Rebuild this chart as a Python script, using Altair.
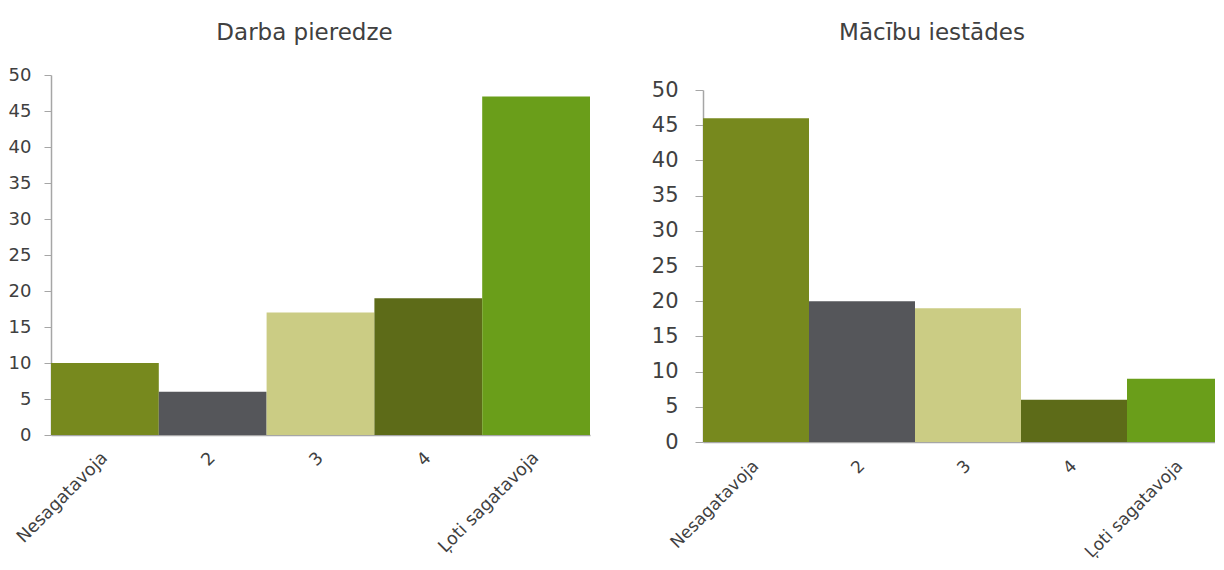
import altair as alt
import pandas as pd

categories = ["Nesagatavoja", "2", "3", "4", "Ļoti sagatavoja"]
darba_values = [10, 6, 17, 19, 47]
macibu_values = [46, 20, 19, 6, 9]
bar_colors = ["#77891e", "#55565a", "#cbcc84", "#5d6b18", "#6a9e1a"]
y_ticks = [0, 5, 10, 15, 20, 25, 30, 35, 40, 45, 50]

FONT = "DejaVu Sans"
TEXT = "#404040"
AXIS = "#a6a6a6"


def panel(values, title, width, height, y_range, ylab_size, ylab_pad, tick,
          title_offset, title_dx, xlab_pad, xlab_size):
    df = pd.DataFrame({"cat": categories, "val": values})
    return (
        alt.Chart(df)
        .mark_bar()
        .encode(
            x=alt.X(
                "cat:N",
                sort=categories,
                scale=alt.Scale(paddingInner=0, paddingOuter=0),
                axis=alt.Axis(
                    title=None,
                    labelAngle=-45,
                    labelAlign="right",
                    labelBaseline="middle",
                    labelFontSize=xlab_size,
                    labelPadding=xlab_pad,
                    ticks=False,
                    domainColor=AXIS,
                    domainWidth=1.5,
                    labelColor=TEXT,
                    labelFont=FONT,
                ),
            ),
            y=alt.Y(
                "val:Q",
                scale=alt.Scale(domain=[0, 50], nice=False, range=y_range),
                axis=alt.Axis(
                    title=None,
                    values=y_ticks,
                    grid=False,
                    tickSize=tick,
                    tickColor=AXIS,
                    domainColor=AXIS,
                    domainWidth=1.5,
                    labelFontSize=ylab_size,
                    labelPadding=ylab_pad,
                    labelColor=TEXT,
                    labelFont=FONT,
                ),
            ),
            color=alt.Color(
                "cat:N",
                sort=categories,
                scale=alt.Scale(domain=categories, range=bar_colors),
                legend=None,
            ),
        )
        .properties(
            width=width,
            height=height,
            title=alt.TitleParams(
                text=title,
                fontSize=23,
                font=FONT,
                fontWeight="normal",
                color=TEXT,
                anchor="middle",
                offset=title_offset,
                dx=title_dx,
            ),
        )
    )


left = panel(darba_values, "Darba pieredze", 539, 360, [360, 0],
             18, 13, 7, 21, -16, 20, 17.5)
right = panel(macibu_values, "Mācību iestādes", 530, 367, [367, 15],
              21, 17, 8, 30, -36, 21, 17)

chart = (
    alt.hconcat(left, right, spacing=61)
    .properties(padding={"left": 0, "top": 14, "right": -18, "bottom": -3})
    .configure_view(stroke="transparent", strokeWidth=0)
)

chart.save("out.html", embed_options={"renderer": "svg", "actions": False})
